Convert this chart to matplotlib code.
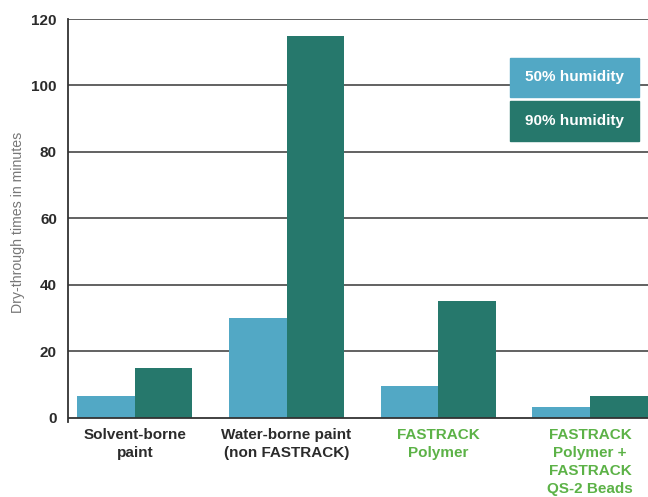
#dry-through times bar chart, two humidity levels per paint type
import numpy as np
import matplotlib
matplotlib.use('Agg')
from matplotlib import pyplot as plt
from matplotlib.patches import Rectangle

#data
categories = ['Solvent-borne\npaint', 'Water-borne paint\n(non FASTRACK)',
              'FASTRACK\nPolymer', 'FASTRACK\nPolymer +\nFASTRACK\nQS-2 Beads']
label_colors = ['#2b2b2b', '#2b2b2b', '#5cb247', '#5cb247']
humid_50 = [6.5, 30, 9.5, 3.2]
humid_90 = [15, 115, 35, 6.5]
series_names = ['50% humidity', '90% humidity']
yticks = [0, 20, 40, 60, 80, 100, 120]

blue = '#52a8c5'
green = '#26786c'

plt.rcParams['font.family'] = ['Liberation Sans', 'DejaVu Sans']

fig = plt.figure(figsize=(6.48, 4.97), dpi=100)
ax = fig.add_axes([68/648, 1-421.7/497, 1-68/648, (421.7-19)/497])

x = np.arange(len(categories))
w = 0.38
ax.bar(x - w/2, humid_50, width=w, color=blue, zorder=3)
ax.bar(x + w/2, humid_90, width=w, color=green, zorder=3)

#grid lines drawn behind the bars
for t in yticks[1:]:
    ax.axhline(t, color='#555555', lw=1.3, zorder=1)
ax.axhline(0, color='#333333', lw=1.3, zorder=4)

ax.set_xlim(-0.44, 3.382)
ax.set_ylim(-1.2, 120)
ax.set_yticks(yticks)
ax.set_yticklabels([str(t) for t in yticks], fontweight='bold', fontsize=11, color='#2b2b2b')
ax.tick_params(axis='y', length=0, pad=8)
ax.set_yticks([0], minor=True)
ax.tick_params(axis='y', which='minor', length=4, width=1.2, color='#333333')

ax.set_xticks(x)
ax.set_xticklabels(categories, fontweight='bold', fontsize=11, linespacing=1.36)
for lab, c in zip(ax.get_xticklabels(), label_colors):
    lab.set_color(c)
ax.tick_params(axis='x', length=0, pad=4.5)

for s in ['top', 'right', 'bottom']:
    ax.spines[s].set_visible(False)
ax.spines['left'].set_color('#333333')
ax.spines['left'].set_linewidth(1.3)

ax.set_ylabel('Dry-through times in minutes', fontsize=10.2, color='#777777')
ax.yaxis.set_label_coords(-43/580, (417.7-218)/402.7)

#legend as coloured boxes with white text
boxes = [(510, 58, 639, 97), (510, 101, 639, 141)]
for (x0, y0, x1, y1), name, c in zip(boxes, series_names, [blue, green]):
    fig.patches.append(Rectangle((x0/648, 1-y1/497), (x1-x0)/648, (y1-y0)/497,
                                 transform=fig.transFigure, color=c, zorder=5))
    fig.text((x0+x1)/2/648, 1-(y0+y1)/2/497, name, color='white', fontweight='bold',
             fontsize=11, ha='center', va='center', zorder=6)

plt.savefig('out.png', dpi=100)
